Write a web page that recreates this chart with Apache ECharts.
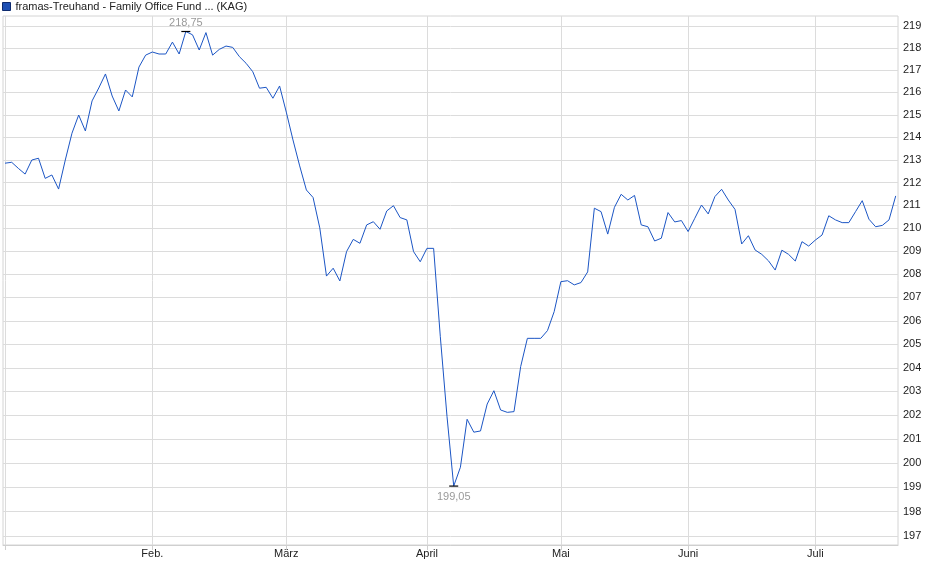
<!DOCTYPE html>
<html><head><meta charset="utf-8">
<script src="https://cdn.jsdelivr.net/npm/echarts@6/dist/echarts.min.js"></script>
<style>html,body{margin:0;padding:0;background:#fff}#c{width:940px;height:579px}</style>
</head><body><div id="c"></div>
<script>
const seriesName = 'framas-Treuhand - Family Office Fund ... (KAG)';
const values = [212.85,212.89,212.62,212.37,212.99,213.07,212.18,212.33,211.71,212.99,
214.18,214.99,214.28,215.62,216.20,216.83,215.84,215.17,216.11,215.80,
217.14,217.68,217.82,217.73,217.73,218.27,217.73,218.75,218.60,217.91,
218.70,217.68,217.94,218.09,218.03,217.61,217.31,216.93,216.19,216.23,
215.74,216.29,215.12,213.88,212.73,211.67,211.34,210.01,207.92,208.26,
207.71,208.98,209.51,209.34,210.14,210.28,209.95,210.75,210.98,210.46,
210.36,208.98,208.54,209.12,209.12,205.32,201.94,199.05,199.83,201.83,
201.29,201.34,202.47,203.03,202.22,202.12,202.15,204.05,205.25,205.25,
205.25,205.58,206.39,207.68,207.72,207.54,207.64,208.10,210.87,210.72,
209.74,210.91,211.48,211.23,211.43,210.14,210.06,209.44,209.56,210.68,
210.27,210.33,209.85,210.43,211.01,210.62,211.38,211.70,211.23,210.82,
209.31,209.67,209.05,208.86,208.58,208.18,209.04,208.86,208.57,209.41,
209.22,209.48,209.70,210.54,210.36,210.24,210.24,210.72,211.20,210.39,
210.06,210.12,210.36,211.41];
const monthStarts = [0, 22, 42, 63, 83, 102, 121];
const monthLabels = ['', 'Feb.', 'März', 'April', 'Mai', 'Juni', 'Juli'];
const yTicks = [197,198,199,200,201,202,203,204,205,206,207,208,209,210,211,212,213,214,215,216,217,218,219];
const yMin = 196.63, yMax = 219.455;

const fmt = v => (Math.exp(v) + 1e-9).toFixed(2).replace('.', ',');
const font = 'Liberation Sans, Arial, sans-serif';
const chart = echarts.init(document.getElementById('c'));
chart.setOption({
  animation: false,
  legend: {
    left: 2, top: 1, padding: 0, itemWidth: 8, itemHeight: 8, itemGap: 6,
    data: [{ name: seriesName, icon: 'rect' }],
    itemStyle: { color: '#1d4fb3', borderColor: '#0d2a6e', borderWidth: 1 },
    textStyle: { fontSize: 11, color: '#222', fontFamily: font, padding: [1, 0, 0, 0] }
  },
  grid: { left: 3, right: 42, top: 16, bottom: 34, show: true, borderColor: '#d4d4d4', borderWidth: 1 },
  xAxis: {
    type: 'value', min: -0.3, max: 133.34,
    axisLine: { show: true, lineStyle: { color: '#cfcfcf' } },
    axisTick: { show: true, customValues: monthStarts, length: 5, lineStyle: { color: '#cfcfcf' } },
    axisLabel: {
      customValues: monthStarts, margin: 3, fontSize: 11, color: '#222', fontFamily: font,
      formatter: v => monthLabels[monthStarts.indexOf(Math.round(v))] || ''
    },
    splitLine: { show: true, lineStyle: { color: '#dcdcdc' } }
  },
  yAxis: {
    type: 'value', position: 'right', min: Math.log(yMin), max: Math.log(yMax),
    axisLine: { show: false },
    axisTick: { show: false, customValues: yTicks.map(Math.log) },
    axisLabel: {
      customValues: yTicks.map(Math.log), margin: 5, fontSize: 11, color: '#222', fontFamily: font,
      formatter: v => String(Math.round(Math.exp(v)))
    },
    splitLine: { show: true, lineStyle: { color: '#dcdcdc' } }
  },
  series: [{
    name: seriesName, type: 'line', color: '#1d4fb3',
    data: values.map((v, i) => [i, Math.log(v)]),
    showSymbol: false, symbol: 'none',
    lineStyle: { width: 1, color: '#1b55c4' },
    markPoint: {
      symbol: 'rect', symbolSize: [9, 1.2],
      itemStyle: { color: '#000' },
      label: { show: true, color: '#9a9a9a', fontSize: 11, fontFamily: font, formatter: p => fmt(p.value) },
      data: [
        { type: 'max', valueDim: 'y', label: { position: 'top', distance: 2 } },
        { type: 'min', valueDim: 'y', label: { position: 'bottom', distance: 5 } }
      ]
    }
  }]
});
</script></body></html>
